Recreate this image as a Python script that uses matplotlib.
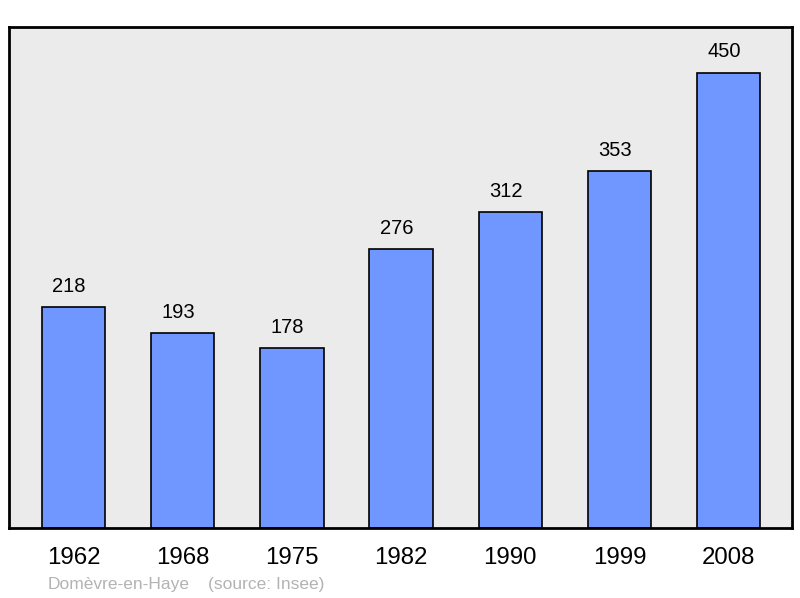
import matplotlib
matplotlib.use("Agg")
from matplotlib import pyplot as plt

years = ["1962", "1968", "1975", "1982", "1990", "1999", "2008"]
population = [218, 193, 178, 276, 312, 353, 450]
commune = "Domèvre-en-Haye"
source = "(source: Insee)"

plt.rcParams["font.family"] = ["Liberation Sans", "DejaVu Sans"]

fig = plt.figure(figsize=(8, 5.98), dpi=100)
ax = fig.add_axes([9 / 800, 70 / 598, 783 / 800, 501 / 598])
ax.set_facecolor("#ebebeb")

pos = list(range(len(years)))
bars = ax.bar(pos, population, width=0.58, color="#7096ff",
              edgecolor="#000000", linewidth=1.2, zorder=2)

# value labels above bars (sit a little left of centre in the original)
for b, v in zip(bars, population):
    ax.annotate(str(v), (b.get_x() + b.get_width() / 2, v),
                xytext=(-3.3, 8), textcoords="offset points",
                ha="center", va="bottom", fontsize=14.5)

ax.set_xlim(-0.59, 6.58)
ax.set_ylim(0, 495)
ax.set_xticks(pos)
ax.set_xticklabels(years, fontsize=17.3)
ax.tick_params(axis="x", length=0, pad=14)
ax.set_yticks([])
for s in ax.spines.values():
    s.set_linewidth(2)
    s.set_color("#000000")

fig.text(48 / 800, 1 - 584 / 598, commune, color="#b3b3b3", fontsize=12.5,
         va="center", ha="left")
fig.text(208 / 800, 1 - 584 / 598, source, color="#b3b3b3", fontsize=12.5,
         va="center", ha="left")

fig.savefig("out.png", dpi=100, facecolor="white")
